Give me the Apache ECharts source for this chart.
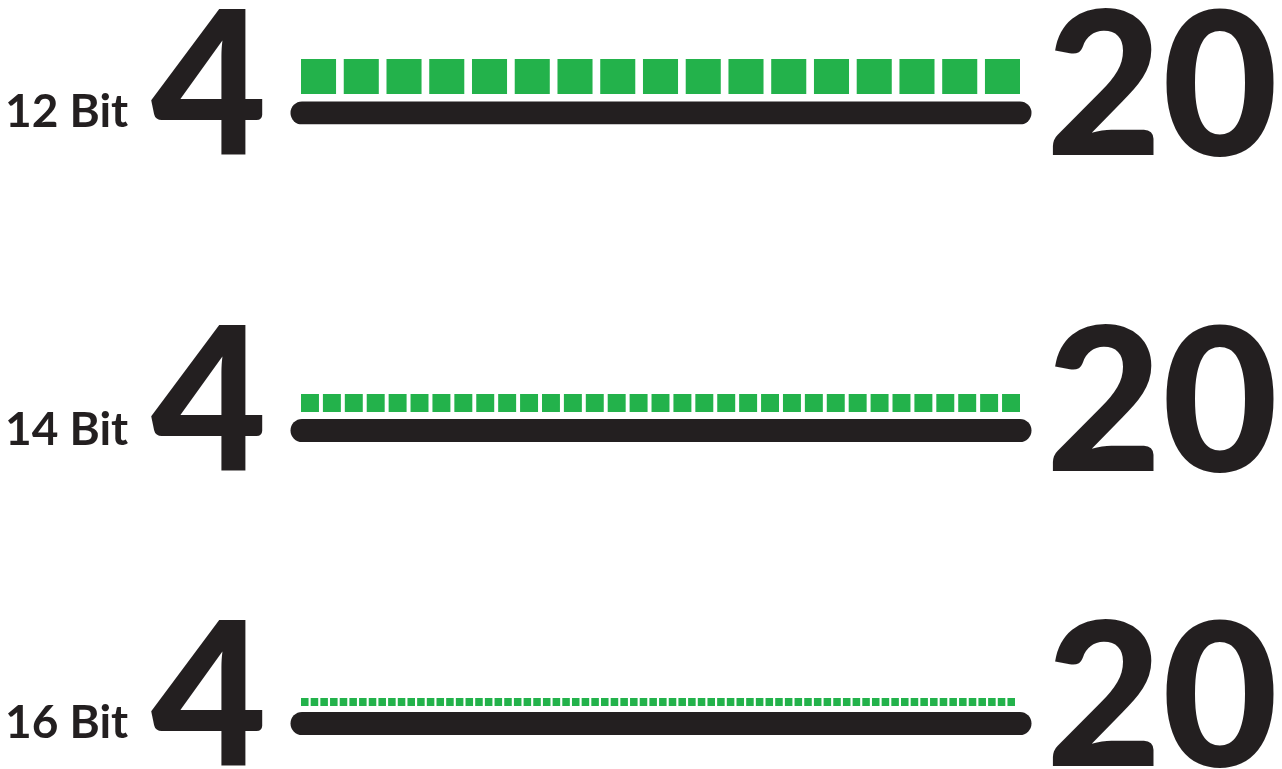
<!DOCTYPE html>
<html>
<head>
<meta charset="utf-8">
<script src="https://cdn.jsdelivr.net/npm/echarts@6/dist/echarts.min.js"></script>
<style>html,body{margin:0;padding:0;background:#fff;}#main{width:1282px;height:769px;}</style>
</head>
<body>
<div id="main"></div>
<script>
// ---- data ----
const bitLabels = ['12 Bit', '14 Bit', '16 Bit'];
const stepCounts = [17, 33, 74];
const lowLabel = '4';
const highLabel = '20';

// ---- layout / style ----
const GREEN = '#23b24b';
const BLACK = '#231f20';
const gridLeft = 301;
const gridRight = [1020, 1020, 1015];
const lineLeft = 302, lineRight = 1020;
const lineCenter = [113, 430.5, 723.5];
const squareCenter = [76.5, 403, 702];
const squareH = [35, 18, 8];
const widthRatio = [0.82, 0.82, 0.78];
const labelCenter = [113, 431, 724];
const bigCenter = [90, 406, 701];

const chart = echarts.init(document.getElementById('main'), null, {renderer: 'canvas'});
const grids = [], xAxes = [], yAxes = [], series = [], graphics = [];

stepCounts.forEach((n, k) => {
  const r = widthRatio[k];
  // squares grid
  const xMax = n - 1 + r;
  const pitchPx = (gridRight[k] - gridLeft) / xMax;
  grids.push({left: gridLeft, width: gridRight[k] - gridLeft, top: squareCenter[k], height: lineCenter[k] - squareCenter[k]});
  xAxes.push({type: 'value', gridIndex: grids.length - 1, min: 0, max: xMax, show: false});
  yAxes.push({type: 'value', gridIndex: grids.length - 1, min: 0, max: 1, show: false});
  const pts = [];
  for (let i = 0; i < n; i++) pts.push([i + r / 2, 1]);
  series.push({
    type: 'scatter', xAxisIndex: xAxes.length - 1, yAxisIndex: yAxes.length - 1, data: pts,
    symbol: 'rect', symbolSize: [pitchPx * r, squareH[k]],
    itemStyle: {color: GREEN, opacity: 1}, silent: true
  });
  // range line grid (4 .. 20)
  grids.push({left: lineLeft, width: lineRight - lineLeft, top: squareCenter[k], height: lineCenter[k] - squareCenter[k]});
  xAxes.push({type: 'value', gridIndex: grids.length - 1, min: Number(lowLabel), max: Number(highLabel), show: false});
  yAxes.push({type: 'value', gridIndex: grids.length - 1, min: 0, max: 1, show: false});
  series.push({
    type: 'line', xAxisIndex: xAxes.length - 1, yAxisIndex: yAxes.length - 1,
    data: [[Number(lowLabel), 0], [Number(highLabel), 0]],
    symbol: 'none', lineStyle: {color: BLACK, width: 23, cap: 'round', opacity: 1}, silent: true
  });
  graphics.push({type: 'text', left: 5, top: labelCenter[k] - 24,
    style: {text: bitLabels[k], font: 'bold 46px "Lato"', fill: BLACK}});
  graphics.push({type: 'text', left: 151, top: bigCenter[k] - 100,
    style: {text: lowLabel, font: '900 200px "Lato"', fill: BLACK}});
  graphics.push({type: 'text', left: 1046, top: bigCenter[k] - 100,
    style: {text: highLabel, font: '900 200px "Lato"', fill: BLACK}});
});

chart.setOption({
  animation: false,
  grid: grids, xAxis: xAxes, yAxis: yAxes, series: series,
  graphic: graphics
});
</script>
</body>
</html>
